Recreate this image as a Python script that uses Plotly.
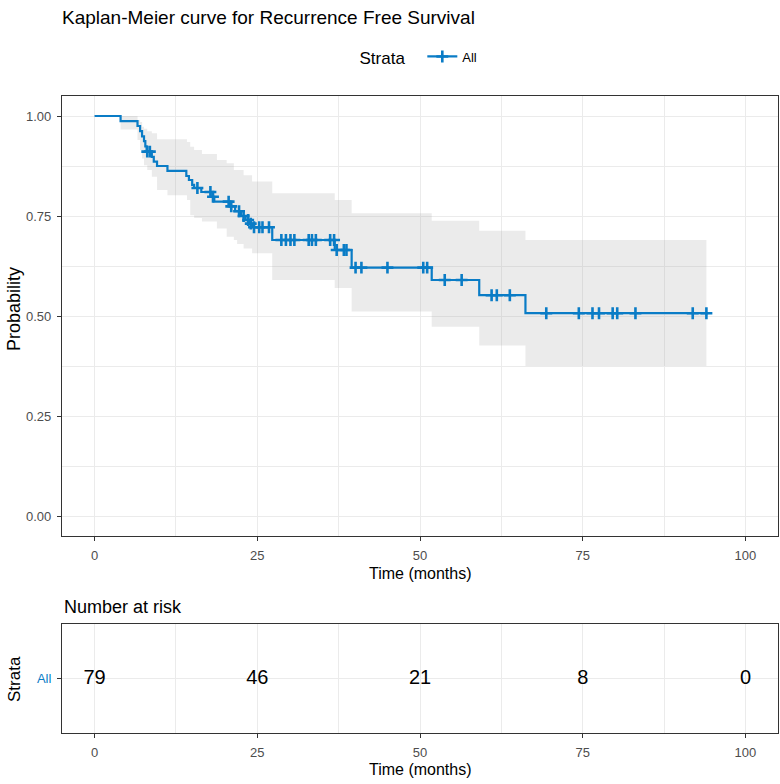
import numpy as np
import plotly.graph_objects as go

# ---- data ----
step_time = [0, 4.0, 6.6, 7.0, 7.3, 7.6, 7.8, 8.0, 8.8, 9.1, 9.6, 11.2, 14.1, 14.5, 15.0, 15.3,
             16.4, 18.1, 18.4, 20.8, 21.6, 22.5, 23.2, 23.8, 24.2, 27.3, 36.9, 39.5, 51.8, 59.1, 66.2]
step_surv = [1.0, 0.987, 0.975, 0.962, 0.949, 0.937, 0.924, 0.911, 0.898, 0.886, 0.875, 0.863,
             0.850, 0.840, 0.828, 0.820, 0.810, 0.798, 0.786, 0.774, 0.762, 0.750, 0.740, 0.731,
             0.722, 0.690, 0.665, 0.621, 0.590, 0.552, 0.507]
end_time = 94.3

censor_time = [8.1, 8.5, 15.8, 17.8, 18.2, 20.6, 21.0, 22.2, 22.9, 23.6, 24.0, 24.5, 25.3, 25.8,
               26.8, 28.7, 29.4, 30.1, 30.7, 32.9, 33.4, 34.0, 36.2, 36.8, 37.2, 38.3, 38.7, 40.1,
               41.0, 45.0, 50.5, 51.1, 53.8, 56.4, 61.0, 61.8, 63.8, 69.4, 74.4, 76.5, 77.5, 79.6,
               80.3, 83.1, 91.9, 94.0]

ci_time = [0, 4.0, 6.6, 7.0, 7.3, 7.6, 8.1, 8.8, 9.6, 11.2, 14.2, 14.7, 15.3, 16.5, 18.8, 20.3,
           21.4, 21.9, 22.9, 24.2, 27.3, 36.9, 39.5, 51.8, 59.1, 66.2, 94.0]
ci_upper = [1.0, 1.0, 0.99, 0.985, 0.973, 0.968, 0.962, 0.957, 0.942, 0.942, 0.935, 0.923, 0.915,
            0.905, 0.89, 0.882, 0.865, 0.865, 0.852, 0.836, 0.807, 0.79, 0.757, 0.738, 0.713, 0.69, 0.69]
ci_lower = [1.0, 0.966, 0.94, 0.915, 0.894, 0.877, 0.865, 0.848, 0.815, 0.802, 0.79, 0.752, 0.745,
            0.736, 0.719, 0.698, 0.69, 0.68, 0.669, 0.657, 0.59, 0.57, 0.511, 0.473, 0.426, 0.375, 0.375]

risk_time = [0, 25, 50, 75, 100]
risk_n = [79, 46, 21, 8, 0]
strata = "All"

x_ticks = [0, 25, 50, 75, 100]
y_ticks = [0, 0.25, 0.5, 0.75, 1.0]

# ---- styling ----
BLUE = "#0A7CC6"
FONT = "Arial, Liberation Sans, sans-serif"
GRID = "#EBEBEB"
AXC = "#333333"
TICKC = "#4D4D4D"

st = np.array(step_time)
ss = np.array(step_surv)
censor_surv = ss[np.searchsorted(st, np.array(censor_time), side="right") - 1]

fig = go.Figure()

# confidence band
fig.add_trace(go.Scatter(x=ci_time, y=ci_upper, mode="lines", line=dict(width=0, shape="hv"),
                         showlegend=False, hoverinfo="skip", xaxis="x", yaxis="y"))
fig.add_trace(go.Scatter(x=ci_time, y=ci_lower, mode="lines", line=dict(width=0, shape="hv"),
                         fill="tonexty", fillcolor="rgba(153,153,153,0.2)",
                         showlegend=False, hoverinfo="skip", xaxis="x", yaxis="y"))
# KM curve
fig.add_trace(go.Scatter(x=step_time + [end_time], y=step_surv + [step_surv[-1]], mode="lines",
                         line=dict(color=BLUE, width=2.2, shape="hv"), showlegend=False,
                         xaxis="x", yaxis="y"))
# censor marks
MARK = dict(symbol="cross-thin", size=8.5, line=dict(color=BLUE, width=2.6))
fig.add_trace(go.Scatter(x=censor_time, y=censor_surv, mode="markers", marker=MARK,
                         showlegend=False, xaxis="x", yaxis="y"))
# legend entry
fig.add_trace(go.Scatter(x=[None], y=[None], mode="lines+markers", name=strata,
                         line=dict(color=BLUE, width=2.2), marker=MARK,
                         showlegend=True, xaxis="x", yaxis="y"))
# risk table
fig.add_trace(go.Scatter(x=risk_time, y=[1] * len(risk_time), mode="text",
                         text=[str(n) for n in risk_n],
                         textfont=dict(family=FONT, size=20, color="#000000"),
                         textposition="middle center", showlegend=False, xaxis="x2", yaxis="y2"))

W, H = 780, 784
L, R, T, B = 62, 2, 96, 51
ph = H - T - B


def py(ypx):
    return (H - B - ypx) / ph


def px(xpx):
    return (xpx - L) / (W - L - R)


axis_common = dict(showline=True, mirror=True, linecolor=AXC, linewidth=1.1,
                   ticks="outside", ticklen=4, tickcolor=AXC, tickwidth=1.1,
                   showgrid=True, gridcolor=GRID, gridwidth=1.1, zeroline=False,
                   ticklabelstandoff=3,
                   tickfont=dict(family=FONT, size=13, color=TICKC))

fig.update_layout(
    width=W, height=H,
    margin=dict(l=L, r=R, t=T, b=B),
    paper_bgcolor="white", plot_bgcolor="white",
    font=dict(family=FONT, color="#000000"),
    title=dict(text="Kaplan-Meier curve for Recurrence Free Survival", xref="container",
               yref="container", x=L / W, xanchor="left", y=1 - 17 / H, yanchor="middle",
               font=dict(family=FONT, size=19, color="#000000")),
    xaxis=dict(domain=[0, 1], range=[-5, 105], tickvals=x_ticks, anchor="y",
               minor=dict(tickvals=[12.5, 37.5, 62.5, 87.5], showgrid=True, gridcolor=GRID,
                          gridwidth=0.6, ticks=""),
               **axis_common),
    yaxis=dict(domain=[py(536), 1], range=[-0.05, 1.05], tickvals=y_ticks, tickformat=".2f",
               anchor="x",
               minor=dict(tickvals=[0.125, 0.375, 0.625, 0.875], showgrid=True, gridcolor=GRID,
                          gridwidth=0.6, ticks=""),
               **axis_common),
    xaxis2=dict(domain=[0, 1], range=[-5, 105], tickvals=x_ticks, anchor="y2",
                minor=dict(tickvals=[12.5, 37.5, 62.5, 87.5], showgrid=True, gridcolor=GRID,
                           gridwidth=0.6, ticks=""),
                **axis_common),
    yaxis2=dict(domain=[0, py(624)], range=[0.4, 1.6], tickvals=[1], ticktext=[strata],
                anchor="x2", **{k: v for k, v in axis_common.items() if k != "tickfont"},
                tickfont=dict(family=FONT, size=13, color=BLUE)),
    legend=dict(orientation="h", x=0.5, xanchor="center", y=py(58), yanchor="middle",
                title=dict(text="Strata  ", font=dict(family=FONT, size=17, color="#000000")),
                font=dict(family=FONT, size=13, color="#000000"), bgcolor="rgba(0,0,0,0)"),
    annotations=[
        dict(text="Time (months)", xref="paper", yref="paper", x=0.5, y=py(573),
             xanchor="center", yanchor="middle", showarrow=False,
             font=dict(family=FONT, size=16, color="#000000")),
        dict(text="Probability", xref="paper", yref="paper", x=px(14), y=py(309),
             xanchor="center", yanchor="middle", textangle=-90, showarrow=False,
             font=dict(family=FONT, size=18, color="#000000")),
        dict(text="Number at risk", xref="paper", yref="paper", x=0, y=py(607),
             xanchor="left", yanchor="middle", showarrow=False,
             font=dict(family=FONT, size=18, color="#000000")),
        dict(text="Time (months)", xref="paper", yref="paper", x=0.5, y=py(769),
             xanchor="center", yanchor="middle", showarrow=False,
             font=dict(family=FONT, size=16, color="#000000")),
        dict(text="Strata", xref="paper", yref="paper", x=px(14), y=py(679),
             xanchor="center", yanchor="middle", textangle=-90, showarrow=False,
             font=dict(family=FONT, size=17, color="#000000")),
    ],
)

fig.write_html("out.html")
